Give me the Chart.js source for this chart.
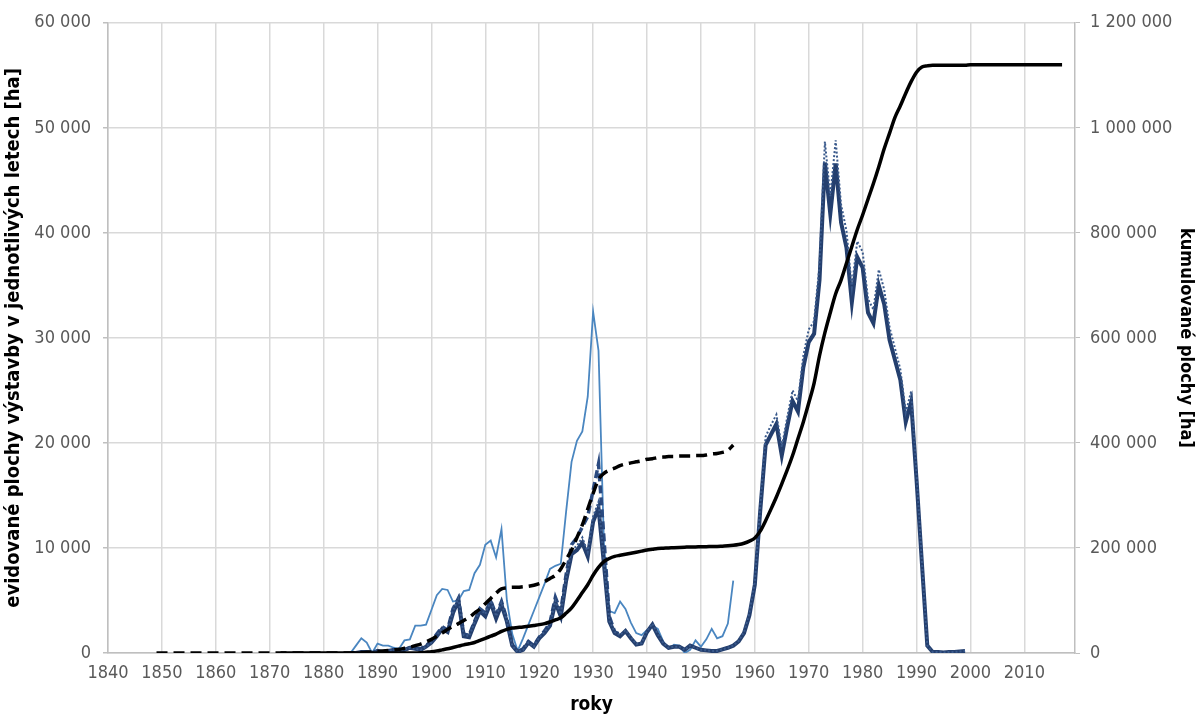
<!DOCTYPE html>
<html>
<head>
<meta charset="utf-8">
<script src="https://cdn.jsdelivr.net/npm/chart.js@4.4.1/dist/chart.umd.min.js"></script>
<style>
  html, body { margin: 0; padding: 0; background: #ffffff; }
  #wrap { width: 1196px; height: 717px; position: relative; }
</style>
</head>
<body>
<div id="wrap"><canvas id="c" width="1196" height="717"></canvas></div>
<script>
// ---- DATA ----
// annual areas (left axis, ha)
const lightBlueStart = 1885;
const lightBlue = [
  0, 700, 1400, 1000, 0, 900, 700, 700, 500, 400,
  1200, 1300, 2600, 2600, 2700, 4100, 5500, 6100, 6000, 4900,
  5000, 5900, 6000, 7600, 8400, 10300, 10700, 9100, 11800, 5000,
  1800, 200, 1400, 2700, 4000, 5300, 6600, 8000, 8300, 8500,
  13500, 18200, 20200, 21100, 24400, 32500, 28800, 10500, 4000, 3800,
  4900, 4200, 2900, 1900, 1700, 2200, 2600, 2300, 1100, 400,
  800, 700, 0, 300, 1200, 600, 1300, 2300, 1400, 1600,
  2800, 6900
];

const navyStart = 1885;
const navy = [
  0, 0, 100, 100, 0, 200, 100, 200, 300, 100,
  300, 500, 400, 300, 600, 1000, 1600, 2300, 2000, 3800,
  5000, 1600, 1500, 2800, 4000, 3500, 4800, 3300, 4600, 3000,
  700, 100, 300, 1000, 600, 1400, 1900, 2600, 4800, 3500,
  6900, 9400, 9800, 10500, 9200, 12500, 13800, 8500, 3000, 1900,
  1600, 2100, 1400, 800, 900, 2000, 2700, 1700, 900, 500,
  600, 600, 300, 700, 500, 300, 250, 200, 200, 350,
  500, 700, 1100, 1900, 3600, 6500, 13500, 19800, 20800, 21800,
  18800, 21500, 24000, 23000, 27200, 29600, 30400, 35500, 46700, 41800,
  46600, 41000, 38600, 33400, 37700, 36700, 32400, 31400, 35000, 33200,
  29800, 27900, 26000, 22000, 23900, 16500, 8500, 700, 100, 100,
  50, 100, 100, 150, 200
];

const navyDottedStart = 1885;
const navyDotted = [
  0, 0, 100, 100, 0, 200, 100, 200, 300, 100,
  300, 500, 400, 300, 600, 1000, 1700, 2400, 2100, 4000,
  5200, 1700, 1600, 2900, 4200, 3700, 5000, 3500, 4800, 3100,
  700, 100, 300, 1000, 600, 1500, 2000, 2700, 5000, 3700,
  7200, 9800, 10200, 11000, 9600, 13000, 14400, 8800, 3100, 2000,
  1700, 2200, 1500, 850, 950, 2100, 2800, 1800, 950, 500,
  600, 600, 300, 700, 500, 300, 250, 200, 200, 350,
  500, 700, 1150, 2000, 3800, 6800, 14000, 20600, 21700, 22700,
  19600, 22400, 25000, 24000, 28300, 30800, 31600, 36900, 48700, 43500,
  48800, 42700, 40200, 34800, 39200, 38200, 33700, 32700, 36500, 34600,
  31000, 29000, 27000, 22900, 24900, 17000, 8700, 700, 100, 100,
  50, 100, 100, 150, 200
];

const navyDashedStart = 1895;
const navyDashed = [
  300, 500, 500, 400, 700, 1100, 1800, 2500, 2200, 4200,
  5200, 1800, 1700, 3000, 4200, 3800, 5000, 3600, 4900, 3200,
  800, 100, 400, 1100, 700, 1500, 2100, 2900, 5300, 4000,
  7500, 10300, 11000, 12000, 13000, 15500, 18000, 11000, 3500, 2000,
  1800
];

// cumulative areas (right axis, ha)
const cumDashedStart = 1849;
const cumDashed = [
  0, 0, 0, 0, 0, 0, 0, 0, 0, 0,
  0, 0, 0, 0, 0, 0, 0, 0, 0, 0,
  0, 0, 0, 0, 0, 0, 0, 0, 0, 0,
  0, 0, 0, 0, 0, 0, 0, 0, 1000, 1600,
  2000, 3000, 4000, 5000, 6000, 7000, 9000, 11000, 14000, 17000,
  21000, 26000, 32000, 38000, 45000, 51000, 56000, 62000, 68000, 76000,
  84000, 94000, 104000, 114000, 122000, 124000, 125000, 125000, 126000, 127000,
  129000, 132000, 136000, 142000, 148000, 160000, 178000, 196000, 220000, 244000,
  274000, 304000, 330000, 342000, 348000, 352000, 357000, 360000, 362000, 364000,
  366000, 369000, 370000, 372000, 373000, 374000, 374000, 375000, 375000, 375000,
  376000, 376000, 377000, 379000, 380000, 382000, 386000, 396000
];

const cumSolidStart = 1872;
const cumSolid = [
  0, 0, 0, 0, 0, 0, 0, 0, 0, 0,
  0, 0, 0, 0, 0, 0, 0, 0, 0, 0,
  0, 0, 0, 0, 0, 0, 500, 1500, 2500, 4000,
  6000, 8000, 10500, 13000, 15500, 17500, 20000, 24000, 28000, 32000,
  36000, 41000, 45000, 47500, 48500, 49500, 51000, 52500, 54000, 56000,
  59000, 63000, 67000, 76000, 86000, 100000, 115000, 130000, 148000, 163000,
  174000, 180000, 184000, 186000, 188000, 190000, 192000, 194000, 196000, 197500,
  199000, 199500, 200000, 200500, 201000, 201500, 202000, 202000, 202500, 202500,
  203000, 203000, 203500, 204000, 205000, 206500, 209000, 213000, 219000, 232000,
  252000, 274000, 297000, 322000, 348000, 376000, 408000, 440000, 476000, 514000,
  566000, 610000, 648000, 684000, 710000, 742000, 774000, 806000, 834000, 864000,
  894000, 926000, 960000, 990000, 1020000, 1042000, 1066000, 1088000, 1106000, 1116000,
  1118000, 1119000, 1119000, 1119000, 1119000, 1119000, 1119000, 1119000, 1120000, 1120000,
  1120000, 1120000, 1120000, 1120000, 1120000, 1120000, 1120000, 1120000, 1120000, 1120000,
  1120000, 1120000, 1120000, 1120000, 1120000, 1120000
];

// axis ticks
const xTickYears = [1840, 1850, 1860, 1870, 1880, 1890, 1900, 1910, 1920, 1930, 1940, 1950, 1960, 1970, 1980, 1990, 2000, 2010];
const leftTicks = [0, 10000, 20000, 30000, 40000, 50000, 60000];
const rightTicks = [0, 200000, 400000, 600000, 800000, 1000000, 1200000];

// ---- BUILD ----
function pts(start, arr) { return arr.map((v, i) => ({ x: start + i, y: v })); }
function fmt(v) { return String(v).replace(/\B(?=(\d{3})+(?!\d))/g, ' '); }

const fam = "'Liberation Sans Narrow', 'DejaVu Sans Condensed', 'Open Sans', sans-serif";
const tickFont = { family: fam, size: 18 };
const tickColor = '#595959';
const gridColor = '#d9d9d9';

new Chart(document.getElementById('c'), {
  type: 'line',
  data: {
    datasets: [
      { data: pts(cumSolidStart, cumSolid), yAxisID: 'y1', borderColor: '#000000', borderWidth: 3.5, pointRadius: 0, cubicInterpolationMode: 'monotone' },
      { data: pts(cumDashedStart, cumDashed), yAxisID: 'y1', borderColor: '#000000', borderWidth: 3.5, borderDash: [11, 6], pointRadius: 0, cubicInterpolationMode: 'monotone' },
      { data: pts(navyDottedStart, navyDotted), yAxisID: 'y', borderColor: '#3a5a8c', borderWidth: 2, borderDash: [2, 2], pointRadius: 0, tension: 0 },
      { data: pts(navyStart, navy), yAxisID: 'y', borderColor: '#243f6e', borderWidth: 4, pointRadius: 0, tension: 0 },
      { data: pts(navyDashedStart, navyDashed), yAxisID: 'y', borderColor: '#2a4a80', borderWidth: 3.5, borderDash: [8, 4], pointRadius: 0, tension: 0 },
      { data: pts(lightBlueStart, lightBlue), yAxisID: 'y', borderColor: '#4a86c0', borderWidth: 1.8, pointRadius: 0, tension: 0 }
    ]
  },
  options: {
    responsive: false,
    animation: false,
    events: [],
    layout: { padding: { top: 22, left: 0, right: 0, bottom: 0 } },
    plugins: { legend: { display: false }, tooltip: { enabled: false } },
    scales: {
      x: {
        type: 'linear', min: 1840, max: 2019.4,
        afterFit: s => { s.height = 64; },
        afterBuildTicks: s => { s.ticks = xTickYears.map(v => ({ value: v })); },
        ticks: { font: tickFont, color: tickColor, padding: 10, maxRotation: 0, callback: v => String(v) },
        grid: { color: gridColor, lineWidth: 1.5, drawTicks: false },
        border: { color: '#bfbfbf', width: 1.5 },
        title: { display: true, text: 'roky', font: { family: fam, size: 19, weight: 'bold' }, color: '#000000', padding: { top: 0, bottom: 1 } }
      },
      y: {
        position: 'left', min: 0, max: 60000,
        afterFit: s => { s.width = 108; },
        afterBuildTicks: s => { s.ticks = leftTicks.map(v => ({ value: v })); },
        ticks: { font: tickFont, color: tickColor, padding: 12, callback: v => fmt(v) },
        grid: { color: gridColor, lineWidth: 1.5, tickLength: 5, tickColor: '#bfbfbf' },
        border: { color: '#bfbfbf', width: 1.5 },
        title: { display: true, text: 'evidované plochy výstavby v jednotlivých letech [ha]', font: { family: fam, size: 20, weight: 'bold' }, color: '#000000', padding: { top: 2, bottom: 0 } }
      },
      y1: {
        position: 'right', min: 0, max: 1200000,
        afterFit: s => { s.width = 121; },
        afterBuildTicks: s => { s.ticks = rightTicks.map(v => ({ value: v })); },
        ticks: { font: tickFont, color: tickColor, padding: 10, callback: v => fmt(v) },
        grid: { drawOnChartArea: false, tickLength: 5, tickColor: '#bfbfbf' },
        border: { color: '#bfbfbf', width: 1.5 },
        title: { display: true, text: 'kumulované plochy [ha]', font: { family: fam, size: 18, weight: 'bold' }, color: '#000000', padding: { top: 0, bottom: 3 } }
      }
    }
  }
});
</script>
</body>
</html>
